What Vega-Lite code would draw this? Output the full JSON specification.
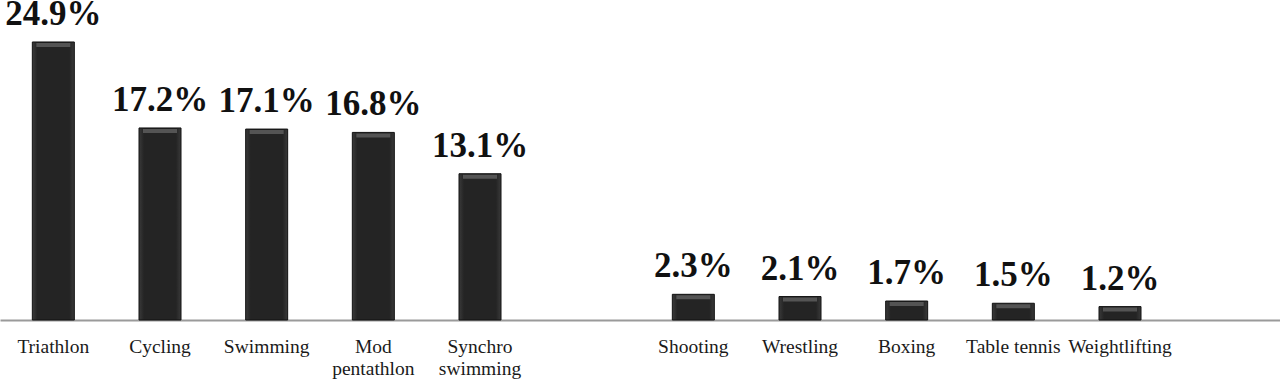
{
  "$schema": "https://vega.github.io/schema/vega-lite/v6.json",
  "width": 1280,
  "height": 320,
  "autosize": {"type": "none"},
  "padding": {"left": 0, "top": 0, "right": 0, "bottom": 60},
  "background": "white",
  "config": {"view": {"stroke": null}},
  "data": {
    "values": [
      {"sport": "Triathlon", "pct": 24.9, "label": "24.9%"},
      {"sport": "Cycling", "pct": 17.2, "label": "17.2%"},
      {"sport": "Swimming", "pct": 17.1, "label": "17.1%"},
      {"sport": "Mod pentathlon", "pct": 16.8, "label": "16.8%"},
      {"sport": "Synchro swimming", "pct": 13.1, "label": "13.1%"},
      {"sport": "Shooting", "pct": 2.3, "label": "2.3%"},
      {"sport": "Wrestling", "pct": 2.1, "label": "2.1%"},
      {"sport": "Boxing", "pct": 1.7, "label": "1.7%"},
      {"sport": "Table tennis", "pct": 1.5, "label": "1.5%"},
      {"sport": "Weightlifting", "pct": 1.2, "label": "1.2%"}
    ]
  },
  "encoding": {
    "x": {
      "field": "sport",
      "type": "nominal",
      "sort": null,
      "scale": {
        "domain": ["Triathlon", "Cycling", "Swimming", "Mod pentathlon", "Synchro swimming", "_gap1", "Shooting", "Wrestling", "Boxing", "Table tennis", "Weightlifting", "_gap2"],
        "paddingInner": 0.6,
        "paddingOuter": 0.3
      },
      "axis": {
        "title": null,
        "labelAngle": 0,
        "ticks": false,
        "domainColor": "#9a9a9a",
        "domainWidth": 2,
        "labelFont": "Liberation Serif",
        "labelFontSize": 19.5,
        "labelColor": "#1a1a1a",
        "labelPadding": 17,
        "labelLineHeight": 22,
        "labelBaseline": "top",
        "labelExpr": "datum.value == 'Mod pentathlon' ? ['Mod', 'pentathlon'] : datum.value == 'Synchro swimming' ? ['Synchro', 'swimming'] : (datum.value == '_gap1' || datum.value == '_gap2' ? '' : datum.value)"
      }
    },
    "y": {
      "field": "pct",
      "type": "quantitative",
      "scale": {"domain": [0, 28.66], "nice": false, "zero": true},
      "axis": null
    }
  },
  "layer": [
    {
      "mark": {
        "type": "bar",
        "size": 42,
        "stroke": "#111111",
        "strokeWidth": 1,
        "color": {
          "x1": 0, "y1": 0, "x2": 1, "y2": 0,
          "gradient": "linear",
          "stops": [
            {"offset": 0, "color": "#3a3a3a"},
            {"offset": 0.12, "color": "#242424"},
            {"offset": 0.88, "color": "#242424"},
            {"offset": 1, "color": "#3a3a3a"}
          ]
        }
      }
    },
    {
      "mark": {
        "type": "tick",
        "size": 34,
        "thickness": 4,
        "yOffset": 3,
        "color": "#6a6a6a",
        "orient": "horizontal"
      }
    },
    {
      "mark": {
        "type": "text",
        "font": "Liberation Serif",
        "fontWeight": "bold",
        "fontSize": 35,
        "color": "#111111",
        "baseline": "alphabetic",
        "align": "center",
        "dy": -17
      },
      "encoding": {
        "text": {"field": "label", "type": "nominal"}
      }
    }
  ]
}
